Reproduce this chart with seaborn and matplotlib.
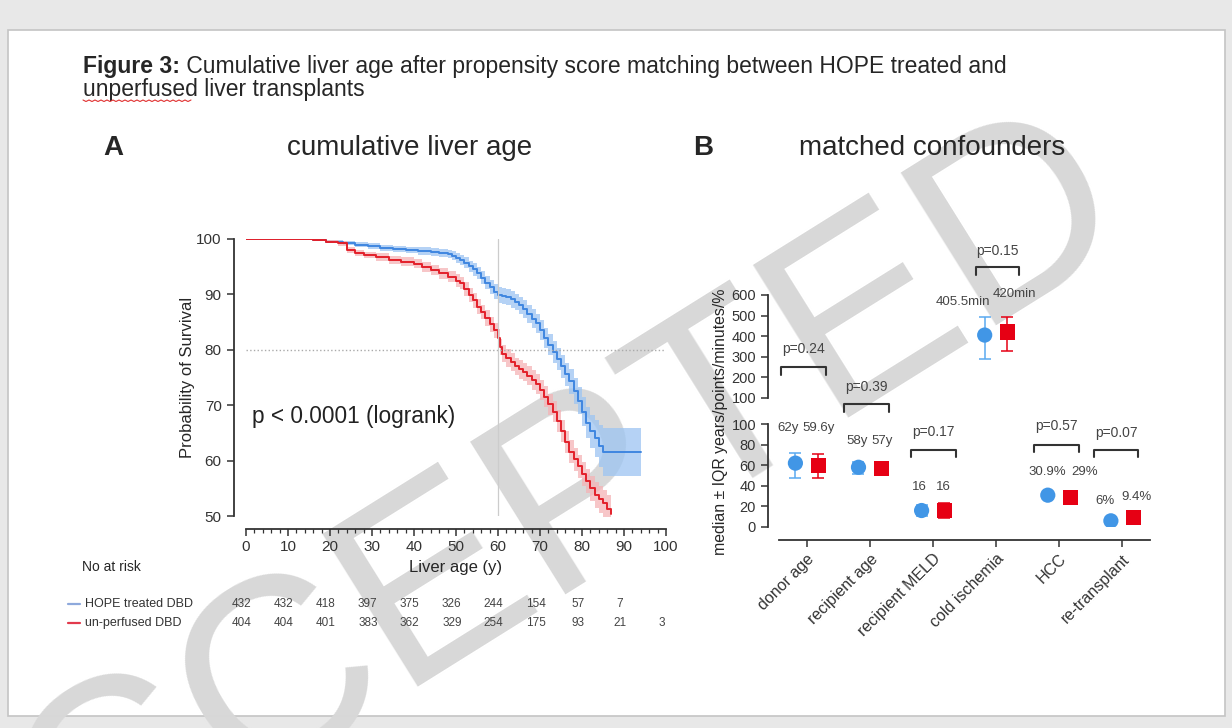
import numpy as np
import pandas as pd
import matplotlib
matplotlib.use('Agg')
import matplotlib.pyplot as plt
import matplotlib.transforms as mtransforms
from matplotlib.patches import Rectangle
from matplotlib.ticker import MultipleLocator
import seaborn as sns

# ---------------- panel A: cumulative liver age (KM) ----------------
hope_age = [0, 16, 19, 23, 26, 29, 32, 35, 38, 41, 44, 46, 48, 49, 50, 51, 52, 53, 54, 55,
            56, 57, 58, 59, 60, 61, 62, 63, 64, 65, 66, 67, 68, 69, 70, 71, 72, 73, 74, 75,
            76, 77, 78, 79, 80, 81, 82, 83, 84, 85, 94]
hope_surv = [100, 99.8, 99.5, 99.3, 99.0, 98.7, 98.4, 98.2, 98.0, 97.8, 97.6, 97.5, 97.3, 97.0, 96.6, 96.2, 95.7, 95.1, 94.5, 93.8,
             93.0, 92.1, 91.3, 90.5, 89.9, 89.7, 89.5, 89.1, 88.6, 88.0, 87.3, 86.4, 85.6, 84.8, 83.6, 82.2, 80.9, 79.6, 78.3, 77.0,
             75.6, 74.3, 72.6, 70.8, 68.8, 66.8, 65.3, 64.0, 62.7, 61.5, 61.5]
hope_ci = [0, 0.2, 0.3, 0.3, 0.4, 0.5, 0.5, 0.6, 0.6, 0.7, 0.7, 0.7, 0.8, 0.8, 0.9, 0.9, 1.0, 1.0, 1.1, 1.1,
           1.2, 1.2, 1.3, 1.3, 1.4, 1.4, 1.4, 1.5, 1.5, 1.5, 1.6, 1.6, 1.7, 1.7, 1.8, 1.8, 1.9, 1.9, 2.0, 2.0,
           2.1, 2.2, 2.3, 2.4, 2.6, 2.8, 3.0, 3.3, 3.8, 4.3, 4.3]

unp_age = [0, 16, 19, 22, 24, 26, 28, 31, 34, 37, 40, 42, 44, 46, 48, 50, 51, 52, 53, 54,
           55, 56, 57, 58, 59, 60, 60.5, 61, 62, 63, 64, 65, 66, 67, 68, 69, 70, 71, 72, 73,
           74, 75, 76, 77, 78, 79, 80, 81, 82, 83, 84, 85, 86, 87]
unp_surv = [100, 99.8, 99.5, 99.2, 98.0, 97.5, 97.1, 96.7, 96.2, 95.9, 95.5, 95.0, 94.4, 93.8, 93.2, 92.5, 92.0, 91.0, 89.9, 88.9,
            87.8, 86.8, 85.7, 84.6, 83.5, 82.2, 80.5, 79.3, 78.5, 77.8, 77.0, 76.5, 76.0, 75.3, 74.6, 73.8, 72.7, 71.5, 70.2, 68.8,
            67.1, 65.3, 63.3, 61.6, 60.2, 59.0, 57.6, 56.3, 55.0, 53.8, 53.0, 52.3, 51.3, 50.3]
unp_ci = [0, 0.2, 0.3, 0.4, 0.5, 0.6, 0.6, 0.7, 0.7, 0.8, 0.8, 0.9, 0.9, 1.0, 1.0, 1.1, 1.1, 1.2, 1.2, 1.3,
          1.3, 1.3, 1.4, 1.4, 1.4, 1.5, 1.5, 1.5, 1.6, 1.6, 1.6, 1.7, 1.7, 1.7, 1.8, 1.8, 1.8, 1.9, 1.9, 1.9,
          2.0, 2.0, 2.0, 2.1, 2.1, 2.1, 2.2, 2.2, 2.3, 2.3, 2.4, 2.4, 2.5, 2.5]

risk_ages = [0, 10, 20, 30, 40, 50, 60, 70, 80, 90, 100]
hope_risk = [432, 432, 418, 397, 375, 326, 244, 154, 57, 7]
unp_risk = [404, 404, 401, 383, 362, 329, 254, 175, 93, 21, 3]

# ---------------- panel B: matched confounders ----------------
confounders = ['donor age', 'recipient age', 'recipient MELD', 'cold ischemia', 'HCC', 're-transplant']
hope_med = [62, 58, 16, 405.5, 30.9, 6]
hope_q1 = [48, 51, 11, 290, np.nan, np.nan]
hope_q3 = [72, 63, 21, 495, np.nan, np.nan]
unp_med = [59.6, 57, 16, 420, 29, 9.4]
unp_q1 = [48, 51, 9, 330, np.nan, np.nan]
unp_q3 = [71, 62, 23.6, 495, np.nan, np.nan]
hope_lbl = ['62y', '58y', '16', '405.5min', '30.9%', '6%']
unp_lbl = ['59.6y', '57y', '16', '420min', '29%', '9.4%']
p_values = ['p=0.24', 'p=0.39', 'p=0.17', 'p=0.15', 'p=0.57', 'p=0.07']

BLUE = '#3f86e0'
RED = '#e3202a'
BLUE_M = '#4196e6'
RED_M = '#e60014'

sns.set_style('ticks')
plt.rcParams['font.family'] = ['Liberation Sans', 'DejaVu Sans']
plt.rcParams['axes.edgecolor'] = '#333333'
plt.rcParams['xtick.color'] = '#333333'
plt.rcParams['ytick.color'] = '#333333'

W, H = 1232, 728
fig = plt.figure(figsize=(W / 100, H / 100), dpi=100, facecolor='#e8e8e8')


def box(x0, y0, x1, y1):
    return [x0 / W, 1 - y1 / H, (x1 - x0) / W, (y1 - y0) / H]


# background layer in pixel coordinates
bg = fig.add_axes([0, 0, 1, 1], zorder=-1)
bg.set_xlim(0, W)
bg.set_ylim(H, 0)
bg.axis('off')
bg.add_patch(Rectangle((8, 30), 1217, 686, facecolor='white', edgecolor='#c4c4c4', lw=1.2, zorder=0))
bg.text(500, 555, 'ACCEPTED', rotation=32, rotation_mode='anchor', fontsize=188,
        color='#d8d8d8', ha='center', va='center', zorder=1)

t = bg.text(83, 73, 'Figure 3:', fontsize=16.5, weight='bold', va='baseline', zorder=2)
bg.annotate(' Cumulative liver age after propensity score matching between HOPE treated and',
            xy=(1, 0), xycoords=t, va='bottom', fontsize=16.5, zorder=2)
bg.text(83, 96, 'unperfused liver transplants', fontsize=16.5, va='baseline', zorder=2)
sq_x = np.arange(83, 193, 3)
bg.plot(sq_x, 100 + np.tile([0, 1.5], len(sq_x))[:len(sq_x)], color='#e03030', lw=0.8, zorder=2)

bg.text(113, 148, 'A', fontsize=20, weight='bold', ha='center', va='center', zorder=2)
bg.text(410, 148, 'cumulative liver age', fontsize=20, ha='center', va='center', zorder=2)
bg.text(703, 148, 'B', fontsize=20, weight='bold', ha='center', va='center', zorder=2)
bg.text(932, 148, 'matched confounders', fontsize=20, ha='center', va='center', zorder=2)

# ---------------- panel A ----------------
axA = fig.add_axes(box(246, 239, 666, 516))
axA.set_facecolor('none')
dfA = pd.concat([
    pd.DataFrame({'age': hope_age, 'surv': hope_surv, 'ci': hope_ci, 'group': 'HOPE treated DBD'}),
    pd.DataFrame({'age': unp_age, 'surv': unp_surv, 'ci': unp_ci, 'group': 'un-perfused DBD'}),
])
for g, c in [('HOPE treated DBD', '#9cc4f2'), ('un-perfused DBD', '#f5b3b6')]:
    d = dfA[dfA['group'] == g]
    axA.fill_between(d['age'], d['surv'] - d['ci'], d['surv'] + d['ci'], step='post',
                     color=c, alpha=0.75, lw=0)
sns.lineplot(data=dfA, x='age', y='surv', hue='group', palette=[BLUE, RED],
             drawstyle='steps-post', estimator=None, legend=False, lw=1.4, ax=axA)
sns.despine(ax=axA, offset=9)
axA.axhline(80, ls=':', color='#aaaaaa', lw=1)
axA.axvline(60, color='#cccccc', lw=0.9)
axA.text(1.5, 68, 'p < 0.0001 (logrank)', fontsize=16.3, va='center', color='#222222')
axA.set_xlim(0, 100)
axA.set_ylim(50, 100)
axA.set_xticks(range(0, 101, 10))
axA.xaxis.set_minor_locator(MultipleLocator(2))
axA.set_yticks(range(50, 101, 10))
axA.tick_params(labelsize=11, length=5, width=1.1)
axA.tick_params(which='minor', length=3, width=0.9)
axA.set_xlabel('Liver age (y)', fontsize=12, labelpad=4)
axA.set_ylabel('Probability of Survival', fontsize=12, labelpad=1)
for s in axA.spines.values():
    s.set_linewidth(1.3)

# number at risk table
trans = mtransforms.blended_transform_factory(axA.transData, bg.transData)
bg.text(82, 567, 'No at risk', fontsize=10, va='center', zorder=2)
for y, lab, c, counts in [(604, 'HOPE treated DBD', '#8ea9dc', hope_risk),
                          (623, 'un-perfused DBD', '#e23a4c', unp_risk)]:
    bg.plot([68, 80], [y, y], color=c, lw=1.6, zorder=2)
    bg.text(85, y, lab, fontsize=9, va='center', color='#333333', zorder=2)
    for a, n in zip(risk_ages, counts):
        axA.text(a - 1, y, str(n), transform=trans, fontsize=8.5, ha='center', va='center',
                 color='#444444', clip_on=False)

# ---------------- panel B ----------------
dfB = pd.concat([
    pd.DataFrame({'idx': range(6), 'med': hope_med, 'q1': hope_q1, 'q3': hope_q3,
                  'lbl': hope_lbl, 'group': 'HOPE'}),
    pd.DataFrame({'idx': range(6), 'med': unp_med, 'q1': unp_q1, 'q3': unp_q3,
                  'lbl': unp_lbl, 'group': 'unperfused'}),
], ignore_index=True)
dfB['pos'] = dfB['idx'] + dfB['group'].map({'HOPE': -0.18, 'unperfused': 0.18})
is_cold = dfB['idx'] == 3

axU = fig.add_axes(box(779, 295, 1150, 398))
axL = fig.add_axes(box(779, 424, 1150, 527))
for ax, part in [(axU, dfB[is_cold]), (axL, dfB[~is_cold])]:
    ax.set_facecolor('none')
    for g, ec in [('HOPE', '#5aaaf0'), ('unperfused', RED_M)]:
        d = part[(part['group'] == g) & part['q1'].notna()]
        ax.errorbar(d['pos'], d['med'], yerr=[d['med'] - d['q1'], d['q3'] - d['med']],
                    fmt='none', ecolor=ec, elinewidth=1.1, capsize=4, capthick=1.1, zorder=2)
    sns.scatterplot(data=part, x='pos', y='med', hue='group', style='group',
                    hue_order=['HOPE', 'unperfused'], style_order=['HOPE', 'unperfused'],
                    palette=[BLUE_M, RED_M], markers=['o', 's'], s=120, linewidth=0,
                    legend=False, zorder=3, ax=ax)

sns.despine(ax=axU, bottom=True, offset={'left': 8})
sns.despine(ax=axL, offset={'left': 8, 'bottom': 9})
for ax in (axU, axL):
    ax.set_xlim(-0.44, 5.44)
    ax.set_xlabel('')
    ax.set_ylabel('')
    ax.tick_params(labelsize=10.5, length=5, width=1.1)
    for s in ax.spines.values():
        s.set_linewidth(1.3)

axU.set_ylim(100, 600)
axU.set_yticks(range(100, 601, 100))
axU.set_xticks([])

axL.set_ylim(0, 100)
axL.set_yticks(range(0, 101, 20))
axL.set_xticks(range(6))
axL.set_xticklabels(confounders, rotation=45, ha='right', rotation_mode='anchor', fontsize=11.5)

bg.text(720, 422, 'median \u00b1 IQR years/points/minutes/%', rotation=90, fontsize=11.4,
        ha='center', va='center', zorder=2)

# value labels (lower-axis units, except cold ischemia which sits on the upper axis)
lbl_pos = {
    'HOPE': [(-0.29, 96), (-0.21, 83.5), (-0.21, 39), (-0.52, 566), (-0.19, 53.5), (-0.27, 25)],
    'unperfused': [(0.19, 96), (0.19, 83.5), (0.17, 39), (0.29, 605), (0.41, 53.5), (0.22, 29)],
}
for _, r in dfB.iterrows():
    dx, y = lbl_pos[r['group']][r['idx']]
    ax = axU if r['idx'] == 3 else axL
    ax.text(r['idx'] + dx, y, r['lbl'], fontsize=9.5, ha='center', va='center',
            color='#444444', clip_on=False)

# p-value brackets (lower-axis units)
brackets = [(-0.41, 0.30, 155, 173), (-0.41, 0.30, 119, 136), (-0.35, 0.37, 75, 92),
            (-0.32, 0.37, 252, 268), (-0.40, 0.32, 80, 98.5), (-0.44, 0.25, 75, 91)]
for i, (x0, x1, yb, yt) in enumerate(brackets):
    axL.plot([i + x0, i + x0, i + x1, i + x1], [yb - 7, yb, yb, yb - 7], color='#333333',
             lw=1.5, clip_on=False)
    axL.text(i + (x0 + x1) / 2, yt, p_values[i], fontsize=10, ha='center', va='center',
             color='#444444', clip_on=False)

fig.savefig('out.png', dpi=100, facecolor=fig.get_facecolor())
